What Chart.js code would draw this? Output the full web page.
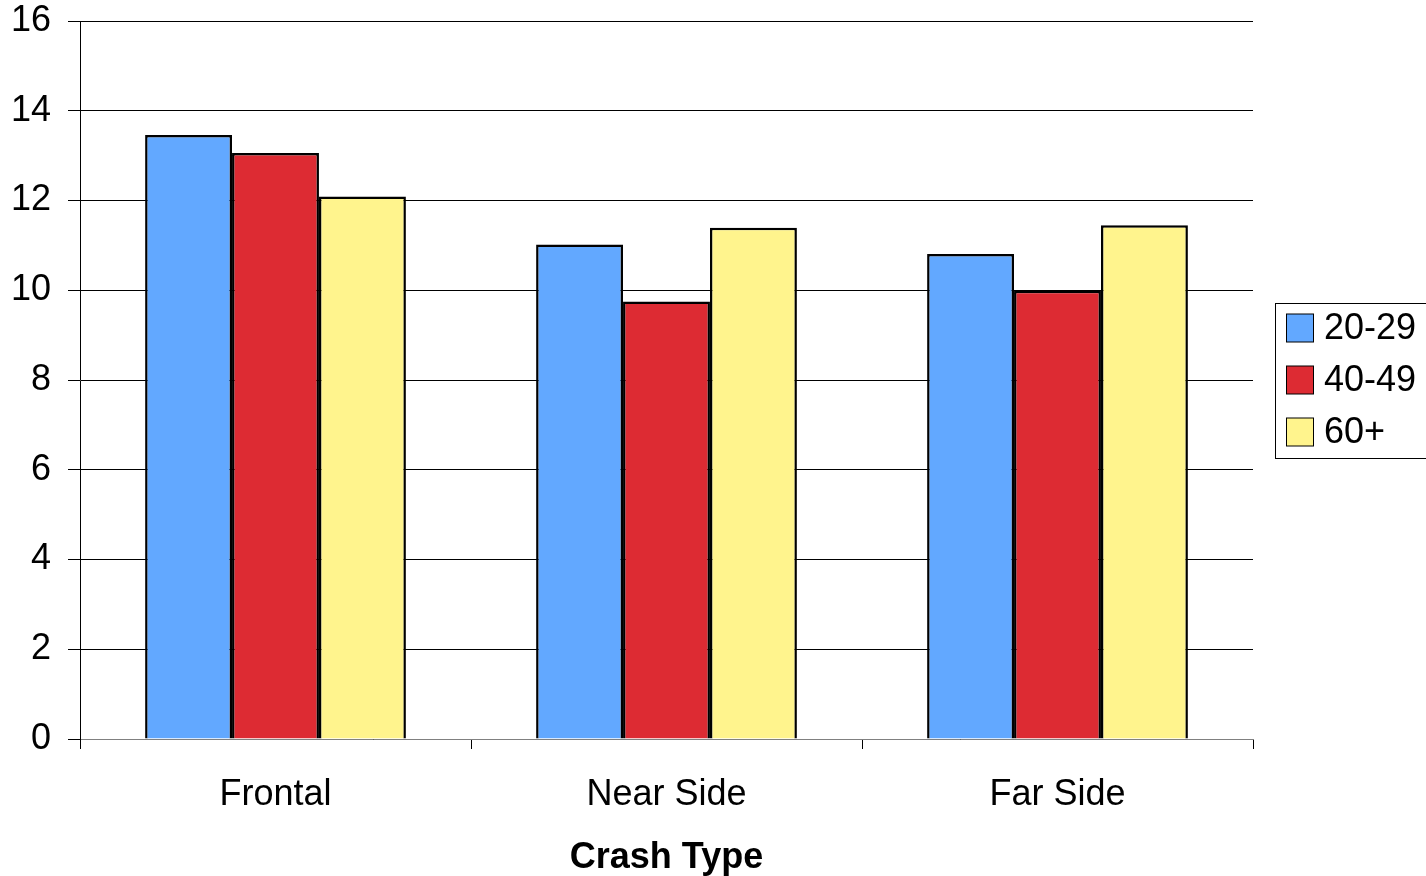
<!DOCTYPE html>
<html>
<head>
<meta charset="utf-8">
<title>Crash Type by Age Group</title>
<script src="https://cdn.jsdelivr.net/npm/chart.js@4/dist/chart.umd.min.js"></script>
<style>
  html, body { margin: 0; padding: 0; background: #fff; }
  #wrap { width: 1426px; height: 876px; }
</style>
</head>
<body>
<div id="wrap"><canvas id="c" width="1426" height="876"></canvas></div>
<script>
// Crash types along the x axis
const categories = ['Frontal', 'Near Side', 'Far Side'];

// Age groups (one series each)
const seriesLabels = ['20-29', '40-49', '60+'];
const age20to29 = [13.46, 11.02, 10.81];
const age40to49 = [13.06, 9.75, 9.99];
const age60plus = [12.09, 11.39, 11.45];

// Value axis ticks
const yTicks = [0, 2, 4, 6, 8, 10, 12, 14, 16];

const seriesColors = ['#62A8FF', '#DD2B33', '#FFF48D'];
const FONT = "'Liberation Sans', Arial, Helvetica, sans-serif";

// Boxed legend on the right, drawn from the chart's own datasets
const boxedLegend = {
  id: 'boxedLegend',
  afterDraw(chart) {
    const ctx = chart.ctx;
    const x0 = 1275.5, y0 = 303.5, w = 170, h = 155;
    ctx.save();
    ctx.fillStyle = '#fff';
    ctx.fillRect(x0, y0, w, h);
    ctx.strokeStyle = '#000';
    ctx.lineWidth = 1;
    ctx.strokeRect(x0, y0, w, h);
    ctx.font = '36px ' + FONT;
    ctx.textBaseline = 'middle';
    ctx.textAlign = 'left';
    chart.data.datasets.forEach((ds, i) => {
      const cy = 328 + i * 52;
      ctx.fillStyle = ds.backgroundColor;
      ctx.fillRect(1286.5, cy - 14, 27, 28);
      ctx.strokeStyle = '#000';
      ctx.strokeRect(1286.5, cy - 14, 27, 28);
      ctx.fillStyle = '#000';
      ctx.fillText(ds.label, 1324, cy + 1);
    });
    ctx.restore();
  }
};

const values = [age20to29, age40to49, age60plus];

new Chart(document.getElementById('c'), {
  type: 'bar',
  data: {
    labels: categories,
    datasets: seriesLabels.map((lab, i) => ({
      label: lab,
      data: values[i],
      backgroundColor: seriesColors[i],
      borderColor: '#000',
      borderWidth: 2.5,
      borderSkipped: 'bottom',
      categoryPercentage: 0.667,
      barPercentage: 1.0
    }))
  },
  options: {
    responsive: false,
    devicePixelRatio: 1,
    animation: false,
    layout: { padding: { top: 21, right: 173, left: 0, bottom: 0 } },
    plugins: {
      legend: { display: false },
      tooltip: { enabled: false }
    },
    scales: {
      x: {
        type: 'category',
        offset: true,
        afterFit(scale) { scale.height = 137; },
        grid: {
          offset: true,
          drawOnChartArea: false,
          drawTicks: true,
          tickLength: 10,
          tickColor: '#000',
          tickWidth: 1
        },
        border: { display: true, color: '#808080', width: 1 },
        ticks: {
          color: '#000',
          padding: 28,
          maxRotation: 0,
          font: { family: FONT, size: 36, lineHeight: 1 }
        },
        title: {
          display: true,
          text: 'Crash Type',
          color: '#000',
          padding: { top: 0, bottom: 0 },
          font: { family: FONT, size: 36, weight: 'bold', lineHeight: 1 }
        }
      },
      y: {
        min: 0,
        max: 16,
        afterFit(scale) {
          scale.width = 80;
          scale.paddingTop = 0;
          scale.paddingBottom = 0;
        },
        afterBuildTicks(scale) { scale.ticks = yTicks.map(v => ({ value: v })); },
        grid: {
          color: '#000',
          lineWidth: 1,
          drawTicks: true,
          tickLength: 12,
          tickColor: '#000'
        },
        border: { display: true, color: '#000', width: 1 },
        ticks: {
          color: '#000',
          padding: 17,
          font: { family: FONT, size: 36, lineHeight: 1 }
        }
      }
    }
  },
  plugins: [boxedLegend]
});
</script>
</body>
</html>
